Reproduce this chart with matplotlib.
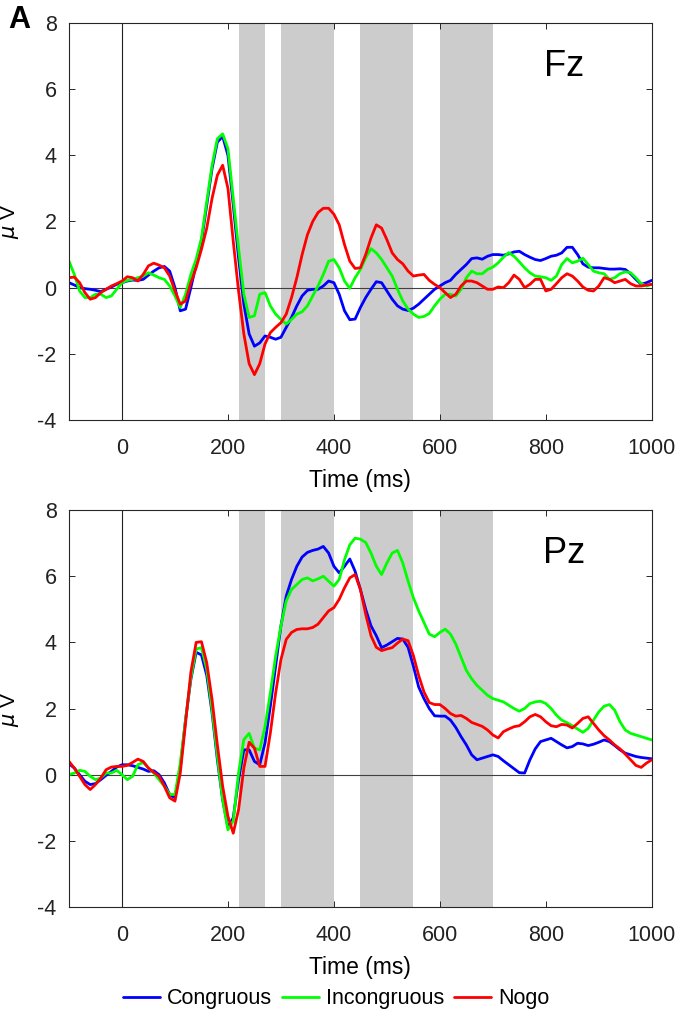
import numpy as np
import matplotlib
matplotlib.use('Agg')
import matplotlib.pyplot as plt

plt.rcParams['font.family'] = ['Liberation Sans', 'DejaVu Sans']
plt.rcParams['axes.unicode_minus'] = False

# time axis, 10 ms steps
time = np.arange(-100, 1001, 10)

# Fz channel
fz_congruous = [0.15, 0.08, 0.0, -0.03, -0.05, -0.08, -0.12, -0.05, 0.02, 0.1,
                0.15, 0.2, 0.23, 0.22, 0.25, 0.38, 0.5, 0.6, 0.64, 0.5,
                0.0, -0.7, -0.65, 0.0, 0.7, 1.4, 2.5, 3.6, 4.4, 4.57,
                4.0, 2.5, 0.9, -0.5, -1.4, -1.77, -1.67, -1.46, -1.5, -1.56,
                -1.5, -1.2, -0.9, -0.55, -0.25, -0.08, -0.05, -0.05, 0.05, 0.2,
                0.15, -0.2, -0.7, -0.97, -0.95, -0.6, -0.3, -0.05, 0.18, 0.15,
                -0.1, -0.35, -0.55, -0.65, -0.69, -0.62, -0.5, -0.35, -0.2, -0.05,
                0.05, 0.15, 0.22, 0.4, 0.55, 0.7, 0.88, 0.9, 0.86, 0.95,
                1.0, 1.0, 0.98, 1.02, 1.08, 1.1, 1.0, 0.92, 0.85, 0.82,
                0.88, 0.95, 0.98, 1.05, 1.22, 1.22, 1.0, 0.72, 0.62, 0.6,
                0.6, 0.58, 0.56, 0.56, 0.57, 0.55, 0.42, 0.25, 0.1, 0.15,
                0.22]
fz_incongruous = [0.8, 0.4, -0.1, -0.3, -0.3, -0.2, -0.2, -0.3, -0.25, -0.05,
                  0.15, 0.22, 0.25, 0.3, 0.35, 0.45, 0.38, 0.3, 0.25, 0.05,
                  -0.25, -0.6, -0.2, 0.4, 0.86, 1.5, 2.6, 3.7, 4.5, 4.65,
                  4.2, 2.7, 1.2, -0.2, -0.9, -0.85, -0.2, -0.15, -0.55, -0.8,
                  -0.96, -1.1, -0.96, -0.8, -0.73, -0.55, -0.25, 0.05, 0.4, 0.8,
                  0.85, 0.6, 0.2, -0.02, 0.3, 0.55, 0.9, 1.18, 1.05, 0.85,
                  0.6, 0.35, -0.05, -0.4, -0.65, -0.8, -0.9, -0.87, -0.78, -0.55,
                  -0.35, -0.2, -0.2, -0.25, -0.05, 0.3, 0.5, 0.42, 0.42, 0.55,
                  0.62, 0.75, 0.92, 1.06, 0.95, 0.78, 0.6, 0.45, 0.35, 0.33,
                  0.3, 0.22, 0.35, 0.7, 0.88, 0.75, 0.8, 0.89, 0.7, 0.5,
                  0.45, 0.42, 0.25, 0.3, 0.42, 0.48, 0.45, 0.3, 0.12, 0.05,
                  0.1]
fz_nogo = [0.3, 0.32, 0.15, -0.15, -0.35, -0.3, -0.15, -0.05, 0.05, 0.12,
           0.2, 0.33, 0.3, 0.2, 0.4, 0.66, 0.74, 0.68, 0.6, 0.35,
           -0.1, -0.5, -0.4, 0.15, 0.6, 1.16, 1.8, 2.7, 3.4, 3.7,
           3.0, 1.4, -0.1, -1.4, -2.3, -2.63, -2.3, -1.7, -1.36, -1.2,
           -1.06, -0.8, -0.3, 0.3, 1.0, 1.6, 2.0, 2.27, 2.4, 2.4,
           2.22, 1.9, 1.3, 0.8, 0.58, 0.6, 1.0, 1.5, 1.9, 1.8,
           1.45, 1.05, 0.85, 0.72, 0.5, 0.35, 0.38, 0.4, 0.22, 0.1,
           0.0, -0.15, -0.3, -0.2, 0.05, 0.2, 0.2, 0.15, 0.05, -0.05,
           -0.05, 0.02, 0.0, 0.15, 0.38, 0.25, 0.0, 0.1, 0.25, 0.25,
           -0.1, -0.05, 0.12, 0.3, 0.42, 0.35, 0.2, 0.02, -0.08, -0.1,
           0.05, 0.3, 0.25, 0.15, 0.2, 0.25, 0.12, 0.05, 0.05, 0.08,
           0.1]

# Pz channel
pz_congruous = [0.33, 0.2, 0.0, -0.2, -0.3, -0.27, -0.15, -0.02, 0.1, 0.23,
                0.3, 0.3, 0.27, 0.22, 0.17, 0.1, 0.12, 0.0, -0.25, -0.6,
                -0.7, 0.2, 1.67, 2.88, 3.7, 3.62, 3.0, 1.87, 0.45, -0.76,
                -1.6, -1.3, -0.15, 0.75, 0.75, 0.4, 0.3, 0.96, 2.07, 3.28,
                4.5, 5.4, 5.9, 6.3, 6.58, 6.72, 6.78, 6.82, 6.9, 6.7,
                6.3, 6.1, 6.3, 6.52, 6.15, 5.6, 5.0, 4.5, 4.2, 3.84,
                3.92, 4.02, 4.12, 4.1, 3.85, 3.28, 2.65, 2.3, 2.0, 1.78,
                1.77, 1.77, 1.65, 1.43, 1.15, 0.9, 0.6, 0.45, 0.5, 0.55,
                0.6, 0.55, 0.42, 0.3, 0.18, 0.06, 0.05, 0.45, 0.78, 1.0,
                1.05, 1.1, 1.0, 0.9, 0.81, 0.85, 0.95, 0.93, 0.88, 0.92,
                0.98, 1.05, 1.0, 0.88, 0.75, 0.65, 0.6, 0.55, 0.52, 0.5,
                0.48]
pz_incongruous = [0.0, 0.05, 0.13, 0.1, -0.05, -0.15, -0.1, 0.05, 0.05, 0.13,
                  0.0, -0.15, -0.05, 0.3, 0.37, 0.2, 0.05, -0.15, -0.35, -0.6,
                  -0.6, 0.35, 1.67, 2.93, 3.8, 3.84, 3.18, 1.97, 0.56, -0.76,
                  -1.67, -1.4, 0.05, 1.06, 1.25, 0.8, 0.75, 1.46, 2.47, 3.58,
                  4.5, 5.25, 5.6, 5.75, 5.9, 5.95, 5.86, 5.92, 6.0, 5.85,
                  5.7, 5.9, 6.5, 6.95, 7.15, 7.12, 7.02, 6.7, 6.3, 6.05,
                  6.4, 6.7, 6.78, 6.4, 5.85, 5.35, 4.95, 4.6, 4.25, 4.17,
                  4.3, 4.4, 4.25, 3.95, 3.55, 3.15, 2.9, 2.7, 2.55, 2.4,
                  2.3, 2.25, 2.2, 2.1, 2.0, 1.92, 2.0, 2.15, 2.2, 2.22,
                  2.15, 2.0, 1.8, 1.65, 1.57, 1.48, 1.38, 1.28, 1.4, 1.65,
                  1.9, 2.07, 2.12, 1.95, 1.6, 1.35, 1.25, 1.2, 1.15, 1.1,
                  1.05]
pz_nogo = [0.4, 0.2, -0.05, -0.3, -0.45, -0.3, -0.1, 0.15, 0.23, 0.25,
           0.25, 0.28, 0.37, 0.47, 0.4, 0.2, 0.07, -0.05, -0.35, -0.7,
           -0.8, 0.05, 1.57, 3.1, 4.0, 4.02, 3.38, 2.27, 0.9, -0.35,
           -1.26, -1.77, -1.06, 0.2, 0.98, 0.8, 0.25, 0.25, 1.26, 2.47,
           3.48, 4.09, 4.3, 4.39, 4.41, 4.41, 4.45, 4.55, 4.75, 4.95,
           5.05, 5.3, 5.65, 5.95, 6.05, 5.6, 4.85, 4.2, 3.85, 3.75,
           3.8, 3.84, 3.98, 4.1, 4.05, 3.6, 3.0, 2.5, 2.18, 2.12,
           2.12, 2.0, 1.85, 1.77, 1.79, 1.7, 1.58, 1.52, 1.46, 1.35,
           1.2, 1.11, 1.3, 1.38, 1.45, 1.48, 1.6, 1.75, 1.82, 1.75,
           1.6, 1.48, 1.45, 1.52, 1.5, 1.41, 1.55, 1.7, 1.75, 1.55,
           1.35, 1.18, 1.05, 0.9, 0.78, 0.62, 0.45, 0.28, 0.22, 0.35,
           0.45]

# analysis windows (ms)
windows = [(220, 270), (300, 400), (450, 550), (600, 700)]

conditions = ['Congruous', 'Incongruous', 'Nogo']
colors = ['#0000ff', '#00ff00', '#ff0000']

fig = plt.figure(figsize=(6.8, 10.1), dpi=100)
ax1 = fig.add_axes([0.1015, 0.5842, 0.857, 0.393])
ax2 = fig.add_axes([0.1015, 0.102, 0.857, 0.393])

panels = [(ax1, 'Fz', [fz_congruous, fz_incongruous, fz_nogo]),
          (ax2, 'Pz', [pz_congruous, pz_incongruous, pz_nogo])]

for ax, name, series in panels:
    for start, end in windows:
        ax.axvspan(start, end, color='#cccccc', lw=0, zorder=0)
    ax.axhline(0, color='#404040', lw=0.8, zorder=1)
    ax.axvline(0, color='#202020', lw=0.8, zorder=1)
    for vals, col, lab in zip(series, colors, conditions):
        ax.plot(time, vals, color=col, lw=2.0, label=lab, zorder=3,
                solid_joinstyle='round', solid_capstyle='round')
    ax.set_xlim(-100, 1000)
    ax.set_ylim(-4, 8)
    ax.set_xticks([0, 200, 400, 600, 800, 1000])
    ax.set_yticks([-4, -2, 0, 2, 4, 6, 8])
    ax.tick_params(direction='in', length=4, width=0.7, labelsize=15.5,
                   top=True, right=True, colors='#262626', labelcolor='#222222')
    ax.tick_params(axis='x', pad=13)
    ax.tick_params(axis='y', pad=9)
    for sp in ax.spines.values():
        sp.set_color('#262626')
        sp.set_linewidth(0.8)
        sp.set_zorder(4)
    ax.set_xlabel('Time (ms)', fontsize=16.5, labelpad=7)
    ax.text(834, 6.7, name, fontsize=26, ha='center', va='center')

fig.text(0.015, 0.781, r'$\mu$ V', rotation=90, fontsize=15, ha='center', va='center')
fig.text(0.015, 0.298, r'$\mu$ V', rotation=90, fontsize=15, ha='center', va='center')
fig.text(0.012, 0.995, 'A', fontsize=22, fontweight='bold', ha='left', va='top')

handles, labels = ax2.get_legend_handles_labels()
fig.legend(handles, labels, loc='center', bbox_to_anchor=(0.494, 0.011), ncol=3,
           frameon=False, fontsize=15.5, handlelength=1.75, handletextpad=0.3,
           columnspacing=0.45)

fig.savefig('out.png', dpi=100)
